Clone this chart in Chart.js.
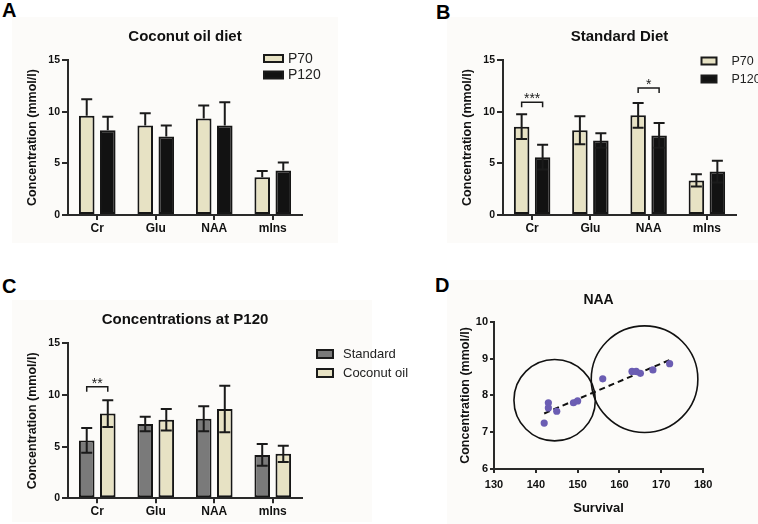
<!DOCTYPE html>
<html>
<head>
<meta charset="utf-8">
<script src="https://cdn.jsdelivr.net/npm/chart.js@4.4.0/dist/chart.umd.min.js"></script>
<style>
  body { margin: 0; background: #fff; width: 758px; height: 524px; position: relative; overflow: hidden; font-family: 'Liberation Sans', Arial, sans-serif; }
  .bg { position: absolute; background: #fcfbf9; }
  .letter { position: absolute; font-weight: bold; font-size: 20px; line-height: 20px; color: #000; }
  canvas { position: absolute; }
</style>
</head>
<body>
<div class="bg" style="left:12px;top:17px;width:326px;height:226px"></div>
<div class="bg" style="left:447px;top:17px;width:311px;height:226px"></div>
<div class="bg" style="left:12px;top:300px;width:360px;height:222px"></div>
<div class="bg" style="left:447px;top:280px;width:311px;height:244px"></div>

<div class="letter" style="left:2px;top:0px">A</div>
<div class="letter" style="left:436px;top:2px">B</div>
<div class="letter" style="left:2px;top:276px">C</div>
<div class="letter" style="left:435px;top:275px">D</div>

<canvas id="chartA" width="379" height="250" style="left:0;top:0"></canvas>
<canvas id="chartB" width="379" height="250" style="left:379px;top:0"></canvas>
<canvas id="chartC" width="430" height="269" style="left:0;top:255px"></canvas>
<canvas id="chartD" width="379" height="269" style="left:379px;top:255px"></canvas>

<script>
// metabolites
const metabolites = ['Cr', 'Glu', 'NAA', 'mIns'];

// coconut oil diet (mean, SD)
const coconutP70 = [9.6, 8.65, 9.35, 3.65];
const coconutP70Sd = [1.6, 1.2, 1.25, 0.6];
const coconutP120 = [8.2, 7.6, 8.65, 4.3];
const coconutP120Sd = [1.3, 1.05, 2.25, 0.78];

// standard diet (mean, SD)
const standardP70 = [8.55, 8.2, 9.65, 3.35];
const standardP70Sd = [1.2, 1.35, 1.2, 0.6];
const standardP120 = [5.6, 7.2, 7.7, 4.2];
const standardP120Sd = [1.2, 0.7, 1.2, 1.05];

// significance brackets: category index, height (mmol/l), label
const sigB = [{ cat: 0, value: 10.9, label: '***' }, { cat: 2, value: 12.3, label: '*' }];
const sigC = [{ cat: 0, value: 10.8, label: '**' }];

// NAA vs survival
const survival = [142, 143, 143, 145, 149, 150, 156, 163, 164, 165, 168, 172];
const naa = [7.25, 7.8, 7.66, 7.57, 7.8, 7.85, 8.45, 8.65, 8.65, 8.6, 8.69, 8.86];
const trendX = [142, 172];
const trendY = [7.51, 8.96];
const groupX = [144.5, 166.0];
const groupY = [7.87, 8.44];

const FONT = "'Liberation Sans', Arial, sans-serif";
const AXIS = '#2a2a2a';
const BEIGE = '#e7e2c4';
const BLACK = '#121212';
const GREY = '#7a7a7a';
const PURPLE = '#6b5db3';

const errorBars = {
  id: 'errorBars',
  afterDatasetsDraw(chart, args, opts) {
    if (!opts || !opts.dir) return;
    const ctx = chart.ctx;
    const y = chart.scales.y;
    ctx.save();
    ctx.strokeStyle = '#1a1a1a';
    ctx.lineWidth = 2;
    chart.data.datasets.forEach((ds, di) => {
      if (!ds.errors) return;
      chart.getDatasetMeta(di).data.forEach((bar, i) => {
        const v = ds.data[i], e = ds.errors[i];
        const top = y.getPixelForValue(v + e);
        const bottom = opts.dir === 'both' ? y.getPixelForValue(v - e) : bar.y;
        ctx.beginPath();
        ctx.moveTo(bar.x, bottom);
        ctx.lineTo(bar.x, top);
        ctx.moveTo(bar.x - 5.5, top);
        ctx.lineTo(bar.x + 5.5, top);
        if (opts.dir === 'both') {
          ctx.moveTo(bar.x - 5.5, bottom);
          ctx.lineTo(bar.x + 5.5, bottom);
        }
        ctx.stroke();
      });
    });
    ctx.restore();
  }
};

const sigMarks = {
  id: 'sigMarks',
  afterDatasetsDraw(chart, args, opts) {
    if (!opts || !opts.items) return;
    const ctx = chart.ctx;
    ctx.save();
    ctx.strokeStyle = '#1a1a1a';
    ctx.fillStyle = '#1a1a1a';
    ctx.lineWidth = 1.5;
    ctx.font = '14px ' + FONT;
    ctx.textAlign = 'center';
    ctx.textBaseline = 'alphabetic';
    opts.items.forEach(it => {
      const a = chart.getDatasetMeta(0).data[it.cat];
      const b = chart.getDatasetMeta(1).data[it.cat];
      const yy = chart.scales.y.getPixelForValue(it.value);
      ctx.beginPath();
      ctx.moveTo(a.x, yy + 5);
      ctx.lineTo(a.x, yy);
      ctx.lineTo(b.x, yy);
      ctx.lineTo(b.x, yy + 5);
      ctx.stroke();
      ctx.fillText(it.label, (a.x + b.x) / 2, yy + 1);
    });
    ctx.restore();
  }
};

const boxLegend = {
  id: 'boxLegend',
  afterDraw(chart, args, o) {
    if (!o || o.x == null) return;
    const ctx = chart.ctx;
    ctx.save();
    chart.data.datasets.forEach((ds, i) => {
      const y = o.y + i * o.row;
      ctx.fillStyle = ds.backgroundColor;
      ctx.fillRect(o.x, y, o.w, o.h);
      ctx.strokeStyle = '#1a1a1a';
      ctx.lineWidth = 2;
      ctx.strokeRect(o.x, y, o.w, o.h);
      ctx.fillStyle = '#222';
      ctx.font = o.size + 'px ' + FONT;
      ctx.textBaseline = 'middle';
      ctx.textAlign = 'left';
      ctx.fillText(ds.label, o.x + o.w + o.gap, y + o.h / 2 + 0.5);
    });
    ctx.restore();
  }
};

function axisGrid(len) {
  return { display: true, drawOnChartArea: false, offset: false, tickLength: len, lineWidth: 2, color: AXIS };
}

function barChart(id, sets, cfg) {
  return new Chart(document.getElementById(id), {
    type: 'bar',
    data: {
      labels: metabolites,
      datasets: sets.map(s => ({
        label: s.label,
        data: s.data,
        errors: s.errors,
        backgroundColor: s.color,
        borderColor: '#161616',
        borderWidth: 2,
        borderSkipped: false,
        categoryPercentage: 0.72,
        barPercentage: 0.74
      }))
    },
    options: {
      responsive: false,
      animation: false,
      layout: { padding: { left: cfg.padLeft, right: cfg.padRight, top: 0, bottom: 0 } },
      plugins: {
        legend: { display: false },
        tooltip: { enabled: false },
        title: {
          display: true, text: cfg.title, fullSize: false, color: '#111',
          font: { family: FONT, size: 15, weight: 'bold' },
          padding: { top: cfg.titleTop, bottom: cfg.titleBottom }
        },
        errorBars: { dir: cfg.errDir },
        sigMarks: { items: cfg.sig || [] },
        boxLegend: cfg.legend
      },
      scales: {
        x: {
          grid: axisGrid(5),
          border: { color: AXIS, width: 2 },
          ticks: { color: '#111', padding: 1, font: { family: FONT, size: 12, weight: 'bold' } },
          afterFit: s => { s.height = cfg.xH; }
        },
        y: {
          min: 0, max: 15,
          grid: axisGrid(6),
          border: { color: AXIS, width: 2 },
          ticks: { stepSize: 5, color: '#111', padding: 2, font: { family: FONT, size: 10.5, weight: 'bold' } },
          title: {
            display: true, text: 'Concentration (mmol/l)', color: '#111',
            font: { family: FONT, size: 12.5, weight: 'bold' },
            padding: { top: 21, bottom: 21 }
          },
          afterFit: s => { s.width = 64; }
        }
      }
    },
    plugins: [errorBars, sigMarks, boxLegend]
  });
}

barChart('chartA', [
  { label: 'P70', data: coconutP70, errors: coconutP70Sd, color: BEIGE },
  { label: 'P120', data: coconutP120, errors: coconutP120Sd, color: BLACK }
], {
  title: 'Coconut oil diet', padLeft: 4, padRight: 77, titleTop: 28, titleBottom: 14, xH: 35,
  errDir: 'up', legend: { x: 264, y: 55, w: 19, h: 7, gap: 5, row: 16.5, size: 14 }
});

barChart('chartB', [
  { label: 'P70', data: standardP70, errors: standardP70Sd, color: BEIGE },
  { label: 'P120', data: standardP120, errors: standardP120Sd, color: BLACK }
], {
  title: 'Standard Diet', padLeft: 60, padRight: 22, titleTop: 28, titleBottom: 14, xH: 35,
  errDir: 'both', sig: sigB, legend: { x: 322.5, y: 57.5, w: 15, h: 7, gap: 15, row: 18, size: 12.5 }
});

barChart('chartC', [
  { label: 'Standard', data: standardP120, errors: standardP120Sd, color: GREY },
  { label: 'Coconut oil', data: coconutP120, errors: coconutP120Sd, color: BEIGE }
], {
  title: 'Concentrations at P120', padLeft: 4, padRight: 128, titleTop: 56, titleBottom: 14.3, xH: 25.7,
  errDir: 'both', sig: sigC, legend: { x: 317, y: 95, w: 16, h: 8, gap: 10, row: 19, size: 13 }
});

new Chart(document.getElementById('chartD'), {
  type: 'scatter',
  data: {
    datasets: [
      {
        label: 'NAA',
        data: survival.map((s, i) => ({ x: s, y: naa[i] })),
        backgroundColor: PURPLE, borderColor: PURPLE,
        pointRadius: 3.6, pointBorderWidth: 0
      },
      {
        label: 'Trend',
        type: 'line',
        data: trendX.map((x, i) => ({ x: x, y: trendY[i] })),
        borderColor: '#111', borderWidth: 2, borderDash: [6, 4],
        pointRadius: 0, fill: false
      },
      {
        label: 'Groups',
        data: groupX.map((x, i) => ({ x: x, y: groupY[i] })),
        pointRadius: [40.7, 53.3],
        pointBackgroundColor: 'rgba(0,0,0,0)',
        pointBorderColor: '#111',
        pointBorderWidth: 1.6,
        clip: false
      }
    ]
  },
  options: {
    responsive: false,
    animation: false,
    layout: { padding: { left: 51, right: 31.3, top: 0, bottom: 0 } },
    plugins: {
      legend: { display: false },
      tooltip: { enabled: false },
      title: {
        display: true, text: 'NAA', fullSize: false, color: '#111',
        font: { family: FONT, size: 14, weight: 'bold' },
        padding: { top: 36.6, bottom: 13.3 }
      }
    },
    scales: {
      x: {
        type: 'linear', min: 130, max: 180,
        grid: axisGrid(4),
        border: { color: AXIS, width: 2 },
        ticks: { stepSize: 10, color: '#111', padding: 5, font: { family: FONT, size: 11, weight: 'bold' } },
        title: {
          display: true, text: 'Survival', color: '#111',
          font: { family: FONT, size: 13, weight: 'bold' },
          padding: { top: 1.2, bottom: 1.2 }
        },
        afterFit: s => { s.height = 48; }
      },
      y: {
        min: 6, max: 10,
        grid: axisGrid(4),
        border: { color: AXIS, width: 2 },
        ticks: { stepSize: 1, color: '#111', padding: 2, font: { family: FONT, size: 11, weight: 'bold' } },
        title: {
          display: true, text: 'Concentration (mmol/l)', color: '#111',
          font: { family: FONT, size: 12.5, weight: 'bold' },
          padding: { top: 28.5, bottom: 28.5 }
        },
        afterFit: s => { s.width = 64; }
      }
    }
  }
});
</script>
</body>
</html>
